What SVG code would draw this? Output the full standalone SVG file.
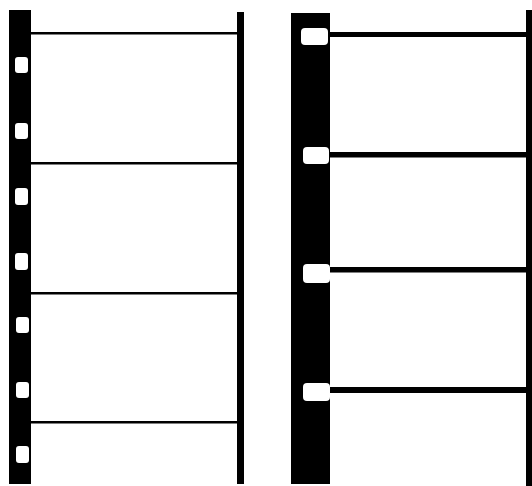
<svg xmlns="http://www.w3.org/2000/svg" width="532" height="486" viewBox="0 0 532 486">
<style>
.blk{fill:#000}
.hole{fill:#fff}
</style>
<rect x="0" y="0" width="532" height="486" fill="#fff"/>
<g id="strip-left">
<rect class="blk" x="9" y="10" width="22" height="474"/>
<rect class="blk" x="237" y="12" width="7" height="472"/>
<rect class="blk" x="31" y="32" width="206" height="2.5"/>
<rect class="blk" x="31" y="162" width="206" height="2.5"/>
<rect class="blk" x="31" y="292" width="206" height="2.5"/>
<rect class="blk" x="31" y="421" width="206" height="2.5"/>
<rect class="hole" x="15" y="57" width="13" height="16" rx="3"/>
<rect class="hole" x="15" y="123" width="13" height="16" rx="3"/>
<rect class="hole" x="15" y="188" width="13" height="17" rx="3"/>
<rect class="hole" x="15" y="253" width="13" height="17" rx="3"/>
<rect class="hole" x="16" y="317" width="13" height="16" rx="3"/>
<rect class="hole" x="16" y="382" width="13" height="16" rx="3"/>
<rect class="hole" x="16" y="446" width="13" height="17" rx="3"/>
</g>
<g id="strip-right">
<rect class="blk" x="291" y="13" width="39" height="471"/>
<rect class="blk" x="526" y="10" width="6" height="476"/>
<rect class="blk" x="330" y="32" width="196" height="5"/>
<rect class="blk" x="330" y="152" width="196" height="5.5"/>
<rect class="blk" x="330" y="267" width="196" height="5.5"/>
<rect class="blk" x="330" y="387" width="196" height="6"/>
<rect class="hole" x="301" y="28" width="27" height="17" rx="4"/>
<rect class="hole" x="303" y="147" width="26" height="17" rx="4"/>
<rect class="hole" x="303" y="264" width="27" height="19" rx="4"/>
<rect class="hole" x="303" y="383" width="27" height="18" rx="4"/>
</g>
</svg>
